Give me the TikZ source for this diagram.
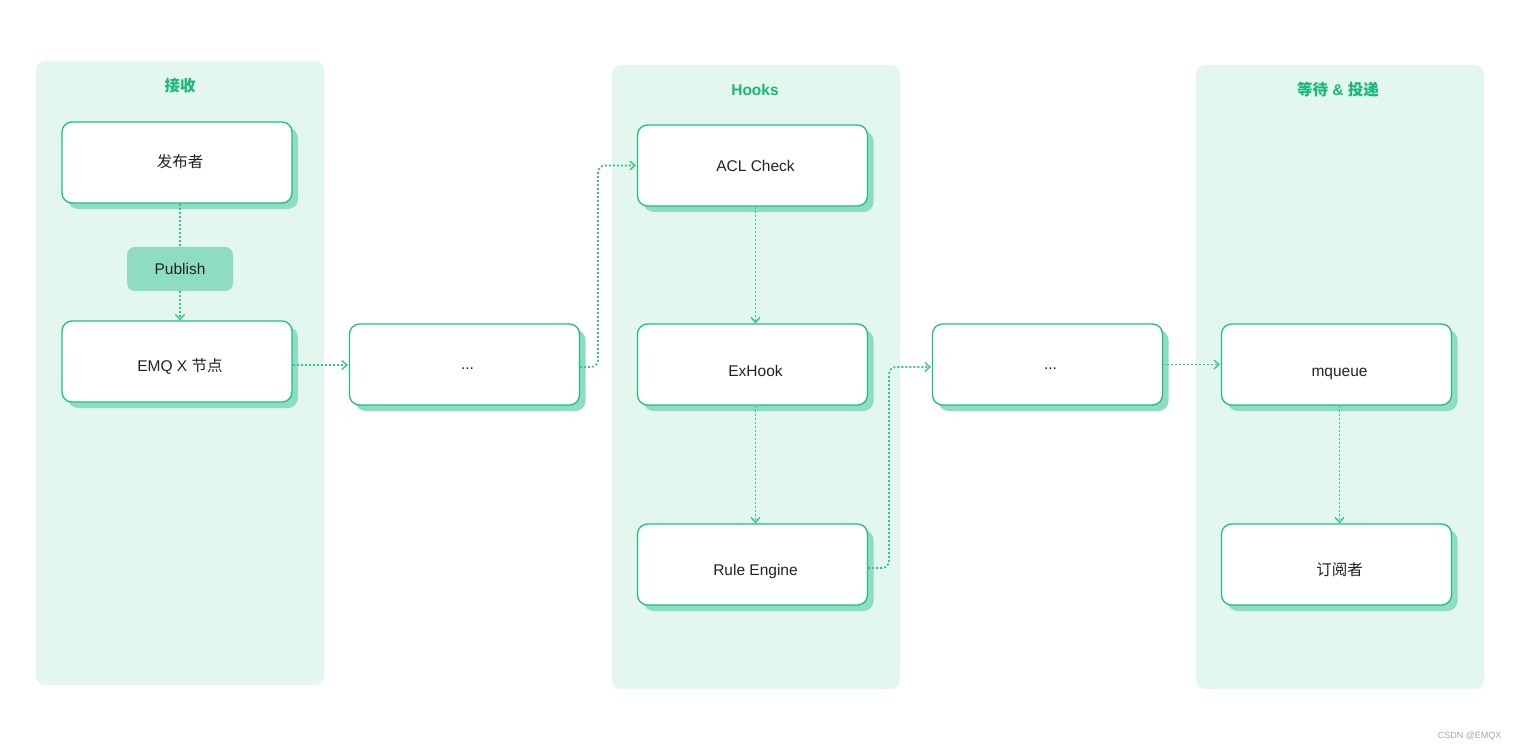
\documentclass[tikz,border=0pt]{standalone}
\usepackage{fontspec}
\setmainfont{Liberation Sans}
\newfontfamily\cjk{Noto Sans CJK SC}
\usetikzlibrary{arrows.meta,shadows,calc}
\definecolor{panelc}{HTML}{E3F7EF}
\definecolor{linec}{HTML}{1FBF80}
\definecolor{shadowc}{HTML}{8DDDC0}
\definecolor{pubc}{HTML}{8EDDC0}
\definecolor{titlec}{HTML}{1AB77A}
\definecolor{dotc}{HTML}{36C28B}
\definecolor{textc}{HTML}{222222}
\tikzset{
  panel/.style={fill=panelc, rounded corners=9pt, draw=none},
  ptitle/.style={text=titlec, font=\fontsize{15.5}{18}\selectfont\bfseries},
  box/.style={draw=linec, line width=1.3pt, fill=white, rounded corners=10pt,
    minimum width=230pt, minimum height=81pt, inner sep=0pt,
    drop shadow={shadow xshift=6pt, shadow yshift=-6pt, fill=shadowc, opacity=1}},
  lbl/.style={text=textc, font=\fontsize{15.5}{18}\selectfont, inner sep=0pt,
    text height=11.2pt, text depth=0pt},
  pub/.style={fill=pubc, rounded corners=8pt, minimum width=106pt, minimum height=44pt,
    inner sep=0pt, text=textc, font=\fontsize{15.5}{18}\selectfont,
    text height=11.2pt, text depth=0pt},
  conn/.style={draw=dotc, line width=1.7pt, dash pattern=on 2pt off 2pt, rounded corners=7pt},
  arr/.style={conn, -{Straight Barb[length=5pt,width=9pt,line width=1.3pt]}},
}
\begin{document}
\begin{tikzpicture}[x=1pt,y=-1pt]
\useasboundingbox[fill=white] (0,0) rectangle (1520,751);
% panels
\fill[panel] (36,61) rectangle (324,685);
\fill[panel] (612,65) rectangle (900,689);
\fill[panel] (1196,65) rectangle (1484,689);
\node[ptitle] (t1) at (180,86) {\cjk 接收};
\node[ptitle] (t2) at (755,90) {Hooks};
\node[ptitle] (t3) at (1338,90) {{\cjk 等待} \& {\cjk 投递}};
% boxes
\node[box] (pubr) at (177,162.5) {};
\node[box] (emq) at (177,361.5) {};
\node[box] (d1) at (464.5,364.5) {};
\node[box] (acl) at (752.5,165.5) {};
\node[box] (exh) at (752.5,364.5) {};
\node[box] (rule) at (752.5,564.5) {};
\node[box] (d2) at (1047.5,364.5) {};
\node[box] (mq) at (1336.5,364.5) {};
\node[box] (sub) at (1336.5,564.5) {};
\node[pub] (pubn) at (180,269) {Publish};
% labels
\node[lbl] (pubrt) at ([xshift=3pt,yshift=1pt]pubr.center) {\cjk 发布者};
\node[lbl] (emqt) at ([xshift=3pt,yshift=-4pt]emq.center) {EMQ X {\cjk 节点}};
\node[lbl] (d1t) at ([xshift=3pt,yshift=1pt]d1.center) {...};
\node[lbl] (aclt) at ([xshift=3pt,yshift=-0.5pt]acl.center) {ACL Check};
\node[lbl] (exht) at ([xshift=3pt,yshift=-6.5pt]exh.center) {ExHook};
\node[lbl] (rulet) at ([xshift=3pt,yshift=-5.5pt]rule.center) {Rule Engine};
\node[lbl] (d2t) at ([xshift=3pt,yshift=1pt]d2.center) {...};
\node[lbl] (mqt) at ([xshift=3pt,yshift=-6.5pt]mq.center) {mqueue};
\node[lbl] (subt) at ([xshift=3pt,yshift=-5.5pt]sub.center) {\cjk 订阅者};
% connectors
\draw[conn] ([xshift=3pt]pubr.south) -- (pubn.north);
\draw[arr] (pubn.south) -- ([xshift=3pt]emq.north);
\draw[arr] ([yshift=-3.5pt]emq.east) coordinate (s1) -- ([xshift=-1pt]s1 -| d1.west);
\coordinate (c1) at (598,0);
\draw[arr] ([yshift=-2.5pt]d1.east) -| (c1 |- acl.west) -- ([xshift=-1pt]acl.west);
\draw[arr] ([xshift=3pt]acl.south) -- ([xshift=3pt]exh.north);
\draw[arr] ([xshift=3pt]exh.south) -- ([xshift=3pt]rule.north);
\coordinate (c2) at (889,0);
\draw[arr] ([yshift=-3.5pt]rule.east) -| ($(c2 |- d2.west)+(0,2.5)$) -- ([yshift=-2.5pt,xshift=-1pt]d2.west);
\draw[arr] (d2.east) -- ([xshift=-1pt]mq.west);
\draw[arr] ([xshift=3pt]mq.south) -- ([xshift=3pt]sub.north);
% watermark
\node[text=gray!70, font=\fontsize{9}{10}\selectfont, anchor=east] (wm) at (1505,736) {CSDN @EMQX};
\end{tikzpicture}
\end{document}
